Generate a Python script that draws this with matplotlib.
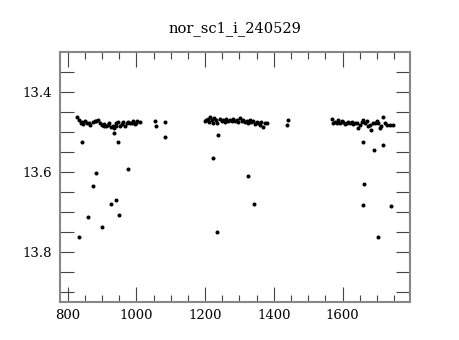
import matplotlib
matplotlib.use("Agg")
import matplotlib.pyplot as plt
from matplotlib.ticker import MultipleLocator

title = "nor_sc1_i_240529"

# main band, first night block
x_band1 = [828, 833, 838, 843, 845, 850, 857, 862, 865, 875, 880, 882, 890, 894, 899,
           905, 907, 913, 918, 921, 925, 931, 936, 940, 942, 947, 952, 957, 960, 967,
           972, 976, 983, 988, 991, 996, 1000, 1003, 1010, 1055, 1058, 1084]
y_band1 = [13.464, 13.471, 13.479, 13.475, 13.480, 13.473, 13.477, 13.478, 13.482, 13.476,
           13.474, 13.472, 13.471, 13.477, 13.482, 13.480, 13.485, 13.486, 13.482, 13.477,
           13.489, 13.485, 13.490, 13.478, 13.485, 13.476, 13.486, 13.480, 13.475, 13.485,
           13.477, 13.476, 13.477, 13.479, 13.474, 13.480, 13.477, 13.473, 13.476, 13.473,
           13.486, 13.476]

# main band, second block
x_band2 = [1199, 1204, 1209, 1212, 1214, 1219, 1222, 1226, 1233, 1236, 1243, 1248, 1253,
           1258, 1262, 1267, 1272, 1277, 1282, 1287, 1292, 1297, 1301, 1306, 1311, 1316,
           1321, 1326, 1330, 1335, 1340, 1345, 1350, 1355, 1359, 1364, 1369, 1374, 1379,
           1440, 1438]
y_band2 = [13.472, 13.470, 13.467, 13.476, 13.462, 13.470, 13.478, 13.466, 13.471, 13.478,
           13.468, 13.474, 13.470, 13.476, 13.467, 13.473, 13.470, 13.474, 13.468, 13.472,
           13.470, 13.475, 13.466, 13.472, 13.470, 13.476, 13.472, 13.478, 13.470, 13.476,
           13.474, 13.480, 13.475, 13.478, 13.482, 13.476, 13.487, 13.479, 13.477,
           13.470, 13.484]

# main band, third block
x_band3 = [1568, 1573, 1578, 1583, 1587, 1592, 1597, 1602, 1607, 1612, 1617, 1621, 1626,
           1631, 1636, 1641, 1645, 1650, 1655, 1660, 1665, 1670, 1675, 1679, 1684, 1689,
           1694, 1699, 1704, 1708, 1713, 1718, 1723, 1728, 1738, 1747]
y_band3 = [13.469, 13.479, 13.475, 13.478, 13.471, 13.479, 13.474, 13.475, 13.480, 13.477,
           13.476, 13.479, 13.476, 13.480, 13.478, 13.479, 13.491, 13.483, 13.475, 13.471,
           13.479, 13.473, 13.485, 13.483, 13.495, 13.477, 13.479, 13.472, 13.479, 13.491,
           13.485, 13.464, 13.477, 13.483, 13.483, 13.483]

# scattered points below the band
x_out = [842, 947, 936, 976, 884, 873, 940, 925, 950, 859, 899, 832, 1084,
         1238, 1223, 1324, 1342, 1234,
         1658, 1692, 1718, 1662, 1658, 1740, 1703]
y_out = [13.525, 13.525, 13.503, 13.592, 13.603, 13.634, 13.670, 13.681, 13.708, 13.713,
         13.736, 13.763, 13.513,
         13.508, 13.566, 13.609, 13.680, 13.750,
         13.526, 13.546, 13.534, 13.629, 13.682, 13.684, 13.763]

plt.rcParams['font.family'] = ['DejaVu Serif']

fig = plt.figure(figsize=(4.6, 3.4), dpi=100)
ax = fig.add_axes([0.1304, 0.1118, 0.7609, 0.7353])

for xs, ys in [(x_band1, y_band1), (x_band2, y_band2), (x_band3, y_band3), (x_out, y_out)]:
    ax.plot(xs, ys, 'o', color='black', markersize=2.9, markeredgewidth=0)

ax.set_xlim(778, 1796)
ax.set_ylim(13.924, 13.301)
ax.xaxis.set_major_locator(MultipleLocator(200))
ax.xaxis.set_minor_locator(MultipleLocator(50))
ax.yaxis.set_major_locator(MultipleLocator(0.2))
ax.yaxis.set_minor_locator(MultipleLocator(0.05))
ax.set_xticks([800, 1000, 1200, 1400, 1600])

ax.tick_params(axis='both', which='both', direction='in', top=True, right=True,
               color='#444444', width=0.8, labelsize=9.5)
ax.tick_params(axis='x', which='major', length=11, pad=5)
ax.tick_params(axis='x', which='minor', length=5)
ax.tick_params(axis='y', which='major', length=10, pad=6)
ax.tick_params(axis='y', which='minor', length=10)
for lab in ax.get_xticklabels() + ax.get_yticklabels():
    lab.set_fontweight('medium')
for s in ax.spines.values():
    s.set_color('#888888')
    s.set_linewidth(1.5)

ax.set_title(title, fontsize=10.5, pad=14)

fig.savefig("out.png", dpi=100)
